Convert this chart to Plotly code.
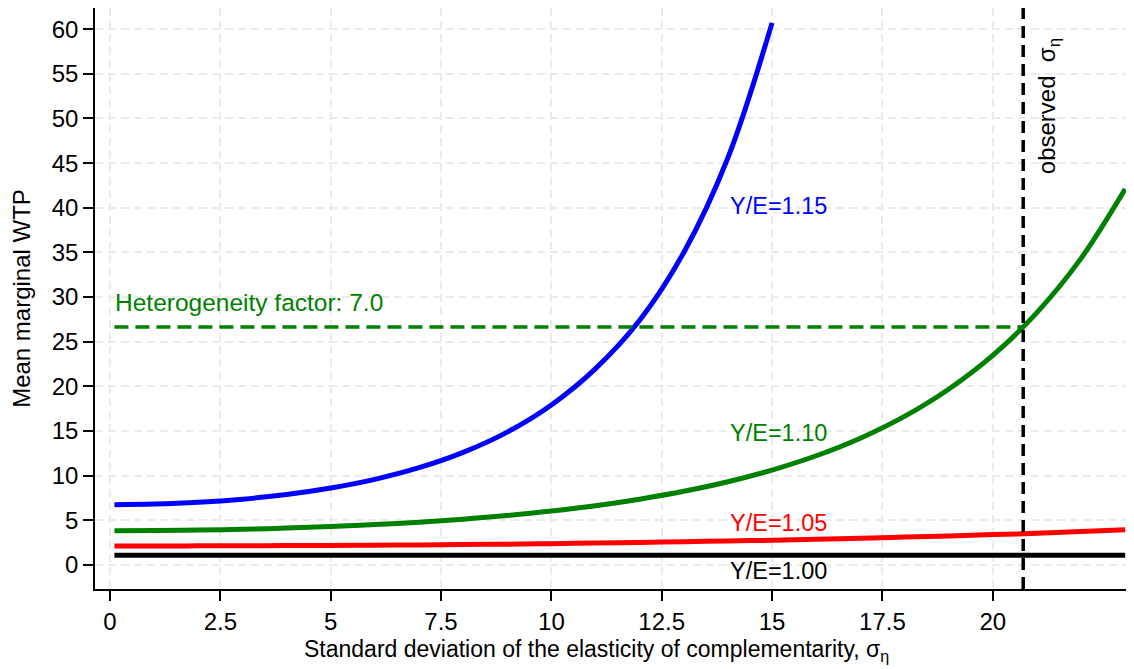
import plotly.graph_objects as go

# values
sigma = [0.1, 1, 2, 3, 4, 5, 6, 7, 8, 9, 10, 11, 12, 13, 14, 15,
         16, 17, 18, 19, 20, 21, 22, 23]
wtp_115 = [6.75, 6.82, 7.02, 7.37, 7.89, 8.62, 9.59, 10.89, 12.61, 14.88,
           17.92, 21.99, 27.4, 35.0, 45.6, 60.7]
wtp_110 = [3.84, 3.86, 3.91, 3.99, 4.13, 4.30, 4.52, 4.79, 5.13, 5.54,
           6.04, 6.64, 7.37, 8.25, 9.32, 10.63, 12.23, 14.20, 16.64, 19.68,
           23.47, 28.26, 34.33, 42.1]
wtp_105 = [2.13, 2.13, 2.14, 2.15, 2.17, 2.19, 2.22, 2.25, 2.29, 2.33,
           2.39, 2.45, 2.52, 2.60, 2.69, 2.77, 2.88, 2.99, 3.12, 3.25,
           3.40, 3.55, 3.74, 3.95]
wtp_100 = [1.1] * len(sigma)

labels = ["Y/E=1.15", "Y/E=1.10", "Y/E=1.05", "Y/E=1.00"]
label_x = 14
label_y = [40.2, 14.75, 4.67, -0.64]
colors = ["#0000ff", "#008000", "#ff0000", "#000000"]

observed_sigma = 20.69
het_level = 26.65
het_text = "Heterogeneity factor: 7.0"
x_title = "Standard deviation of the elasticity of complementarity, σ<sub>η</sub>"

FONT = "Liberation Sans, Arial, Helvetica, sans-serif"

fig = go.Figure()
for ys, col in zip([wtp_115, wtp_110, wtp_105, wtp_100], colors):
    fig.add_trace(go.Scatter(
        x=sigma[:len(ys)], y=ys, mode="lines", line_shape="spline",
        line=dict(color=col, width=5), showlegend=False, hoverinfo="skip",
    ))

# heterogeneity factor guide
fig.add_trace(go.Scatter(
    x=[0.1, observed_sigma], y=[het_level, het_level], mode="lines",
    line=dict(color="#008000", width=3.5, dash="14px,7px"),
    showlegend=False, hoverinfo="skip",
))
# observed sigma guide
fig.add_shape(type="line", x0=observed_sigma, x1=observed_sigma,
              y0=0, y1=1, xref="x", yref="paper",
              line=dict(color="black", width=3.5, dash="12px,7px"))

for txt, yy, col in zip(labels, label_y, colors):
    fig.add_annotation(x=label_x, y=yy, text=txt, showarrow=False,
                       xanchor="left", yanchor="middle",
                       font=dict(color=col, size=23.5, family=FONT))

fig.add_annotation(x=0.06, y=29.4, text=het_text, showarrow=False,
                   xanchor="left", yanchor="middle",
                   font=dict(color="#008000", size=24.5, family=FONT))
fig.add_annotation(x=21.28, y=51.4, text="observed  σ<sub>η</sub>",
                   showarrow=False, textangle=-90,
                   xanchor="center", yanchor="middle",
                   font=dict(color="black", size=24, family=FONT))
# x axis title, sitting a little left of the plot centre as in the original
fig.add_annotation(x=0.483, y=-0.105, xref="paper", yref="paper",
                   text=x_title, showarrow=False,
                   xanchor="center", yanchor="middle",
                   font=dict(color="black", size=23, family=FONT))

axis_common = dict(
    showgrid=True, gridcolor="#ebebeb", gridwidth=1.5, griddash="8px,5px",
    zeroline=False, showline=True, linecolor="black", linewidth=1.5,
    ticks="outside", ticklen=10, tickwidth=1.5, tickcolor="black",
    tickfont=dict(size=24, color="black", family=FONT),
)
fig.update_xaxes(
    range=[-0.34, 23.2], tickvals=[0, 2.5, 5, 7.5, 10, 12.5, 15, 17.5, 20],
    ticktext=["0", "2.5", "5", "7.5", "10", "12.5", "15", "17.5", "20"],
    **axis_common,
)
fig.update_yaxes(
    range=[-2.69, 62.37], tickvals=list(range(0, 61, 5)),
    title=dict(text="Mean marginal WTP",
               font=dict(size=24, color="black", family=FONT), standoff=16),
    **axis_common,
)
# page adds an 8px body margin, so the figure is sized to fit inside it
fig.update_layout(
    width=1126, height=661,
    margin=dict(l=87, r=0, t=0, b=80),
    plot_bgcolor="white", paper_bgcolor="white",
    font=dict(family=FONT),
)
fig.write_html("out.html")
